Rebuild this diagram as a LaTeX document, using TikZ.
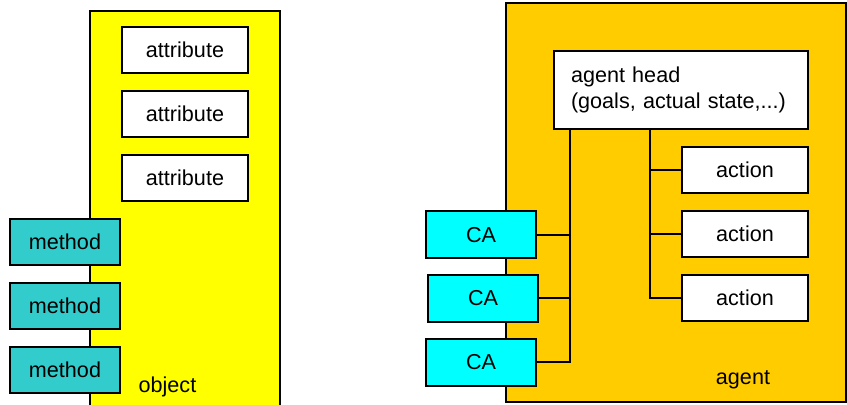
\documentclass[tikz,border=0pt]{standalone}
\usepackage{fontspec}
\setmainfont{Liberation Sans}
\definecolor{objyellow}{HTML}{FFFF00}
\definecolor{agentorange}{HTML}{FFCC00}
\definecolor{methodteal}{HTML}{33CCCC}
\definecolor{cacyan}{HTML}{00FFFF}
\begin{document}
\begin{tikzpicture}
[x=0.5pt,y=-0.5pt,line width=1pt,
every node/.style={font=\fontsize{10.8}{13}\selectfont},
attrbox/.style={rectangle,draw,fill=white,minimum width=63pt,minimum height=23pt,inner sep=0pt},
actionbox/.style={attrbox},
methodbox/.style={rectangle,draw,fill=methodteal,minimum width=55pt,minimum height=23pt,inner sep=0pt},
cabox/.style={rectangle,draw,fill=cacyan,minimum width=55pt,minimum height=23.5pt,inner sep=0pt},
headbox/.style={rectangle,draw,fill=white,text width=110pt,inner xsep=8.5pt,minimum height=39pt,align=left},
frame/.style={draw}]
\useasboundingbox (0,0) rectangle (847,405);
% object
\draw[frame,fill=objyellow] (90,412) -- (90,11) -- (280,11) -- (280,412);
\node[attrbox] (attr1) at (185,50) {attribute};
\node[attrbox] (attr2) at (185,114) {attribute};
\node[attrbox] (attr3) at (185,178) {attribute};
\node[methodbox] (meth1) at (65,242) {method};
\node[methodbox] (meth2) at (65,306) {method};
\node[methodbox] (meth3) at (65,370) {method};
\node[anchor=west] (objlabel) at (131,387) {object};
% agent
\draw[frame,fill=agentorange] (506,3) rectangle (846,402);
\node[headbox] (head) at (681,90) {agent head\\(goals, actual state,...)};
\node[actionbox] (act1) at (745,170) {action};
\node[actionbox] (act2) at (745,234) {action};
\node[actionbox] (act3) at (745,298) {action};
\node[cabox] (ca1) at (481,235) {CA};
\node[cabox] (ca2) at (483,298.5) {CA};
\node[cabox] (ca3) at (481,362.5) {CA};
\node (agentlabel) at (743,380) {agent};
% connectors
\coordinate (trunkL) at (570,129);
\coordinate (trunkR) at (650,129);
\draw (trunkL) |- (ca3.east);
\draw (ca1.east) -- (ca1.east -| trunkL);
\draw (ca2.east) -- (ca2.east -| trunkL);
\draw (trunkR) |- (act3.west);
\draw (act1.west) -- (act1.west -| trunkR);
\draw (act2.west) -- (act2.west -| trunkR);
\end{tikzpicture}
\end{document}
